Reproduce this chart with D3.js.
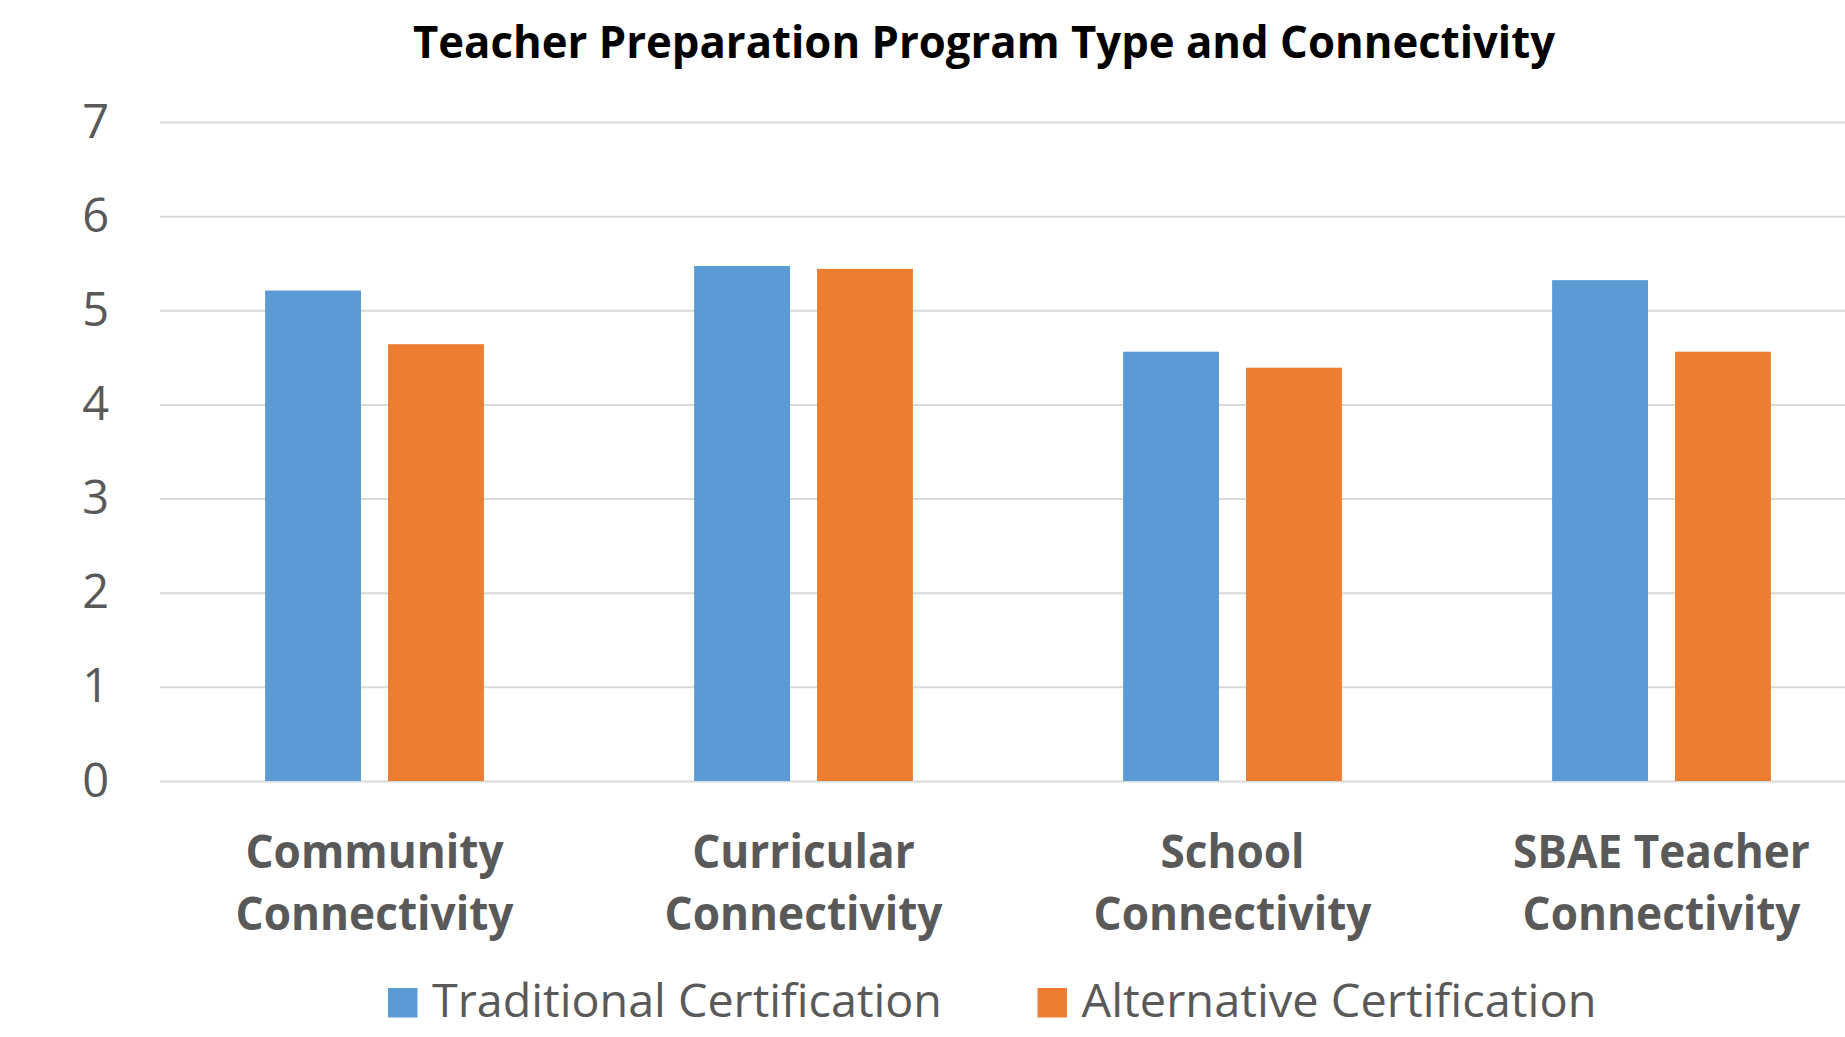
<!DOCTYPE html>
<html>
<head>
<meta charset="utf-8">
<script src="https://cdn.jsdelivr.net/npm/d3@7"></script>
<style>
  body { margin: 0; background: #fff; }
  #chart text { font-family: "Open Sans", "Noto Sans", sans-serif; }
</style>
</head>
<body>
<div id="chart"></div>
<script>
// chart data
var categories = ["Community Connectivity", "Curricular Connectivity", "School Connectivity", "SBAE Teacher Connectivity"];
var categoryLines = [["Community", "Connectivity"], ["Curricular", "Connectivity"], ["School", "Connectivity"], ["SBAE Teacher", "Connectivity"]];
var seriesNames = ["Traditional Certification", "Alternative Certification"];
var traditional = [5.21, 5.47, 4.56, 5.32];
var alternative = [4.64, 5.44, 4.39, 4.56];
var yTicks = [0, 1, 2, 3, 4, 5, 6, 7];
var colors = ["#5B9BD5", "#ED7D31"];
var title = "Teacher Preparation Program Type and Connectivity";

var W = 1845, H = 1037;
var margin = { top: 122, left: 160, bottom: H - 781 };
var plotRight = 1876; // plot area runs past the right edge (cropped like the original)

var svg = d3.select("#chart")
  .append("svg")
    .attr("width", W)
    .attr("height", H);

svg.append("rect").attr("width", W).attr("height", H).attr("fill", "#fff");

var x0 = d3.scaleBand()
  .domain(categories)
  .range([margin.left, plotRight])
  .paddingInner(0.49)
  .paddingOuter(0.245);

var x1 = d3.scaleBand()
  .domain(seriesNames)
  .range([0, x0.bandwidth()])
  .paddingInner(0.22);

var y = d3.scaleLinear()
  .domain([0, 7])
  .range([781, 122]);

// gridlines + y labels
var yAxis = svg.append("g")
  .attr("transform", "translate(" + margin.left + ",0)")
  .call(d3.axisLeft(y).tickValues(yTicks).tickSize(-(plotRight - margin.left)).tickPadding(51).tickFormat(d3.format("d")));
yAxis.select(".domain").remove();
yAxis.selectAll(".tick line").attr("stroke", "#d9d9d9").attr("stroke-width", 2);
yAxis.selectAll(".tick text")
  .attr("fill", "#595959")
  .style("font-size", "47px");

// bars
var rows = categories.map(function (c, i) {
  return { cat: c, values: [traditional[i], alternative[i]] };
});

var groups = svg.selectAll(".grp")
  .data(rows)
  .enter()
  .append("g")
    .attr("class", "grp")
    .attr("transform", function (d) { return "translate(" + x0(d.cat) + ",0)"; });

groups.selectAll("rect")
  .data(function (d) { return d.values.map(function (v, j) { return { s: seriesNames[j], v: v, j: j }; }); })
  .enter()
  .append("rect")
    .attr("x", function (d) { return x1(d.s); })
    .attr("y", function (d) { return y(d.v); })
    .attr("width", x1.bandwidth())
    .attr("height", function (d) { return y(0) - y(d.v); })
    .attr("fill", function (d) { return colors[d.j]; });

// title
var titleText = svg.append("text")
  .attr("x", 984)
  .attr("y", 58)
  .attr("text-anchor", "middle")
  .attr("fill", "#000")
  .style("font-size", "45px")
  .style("font-weight", "bold")
  .text(title);
titleText.attr("textLength", 1142).attr("lengthAdjust", "spacingAndGlyphs");

// category labels (squeezed a little, like the narrow original face)
var lineY = [868, 930];
categoryLines.forEach(function (lines, i) {
  lines.forEach(function (ln, k) {
    var t = svg.append("text")
      .attr("x", x0(categories[i]) + x0.bandwidth() / 2)
      .attr("y", lineY[k])
      .attr("text-anchor", "middle")
      .attr("fill", "#595959")
      .style("font-size", "46px")
      .style("font-weight", "bold")
      .text(ln);
    var len = t.node().getComputedTextLength();
    t.attr("textLength", len * 0.96).attr("lengthAdjust", "spacingAndGlyphs");
  });
});

// legend
var legendX = [388, 1037.5];
var legendW = [510, 515];
seriesNames.forEach(function (name, i) {
  svg.append("rect")
    .attr("x", legendX[i])
    .attr("y", 988)
    .attr("width", 29.5)
    .attr("height", 29.5)
    .attr("fill", colors[i]);
  svg.append("text")
    .attr("x", legendX[i] + 44)
    .attr("y", 1016.5)
    .attr("fill", "#595959")
    .style("font-size", "46px")
    .attr("textLength", legendW[i])
    .attr("lengthAdjust", "spacingAndGlyphs")
    .text(name);
});
</script>
</body>
</html>
